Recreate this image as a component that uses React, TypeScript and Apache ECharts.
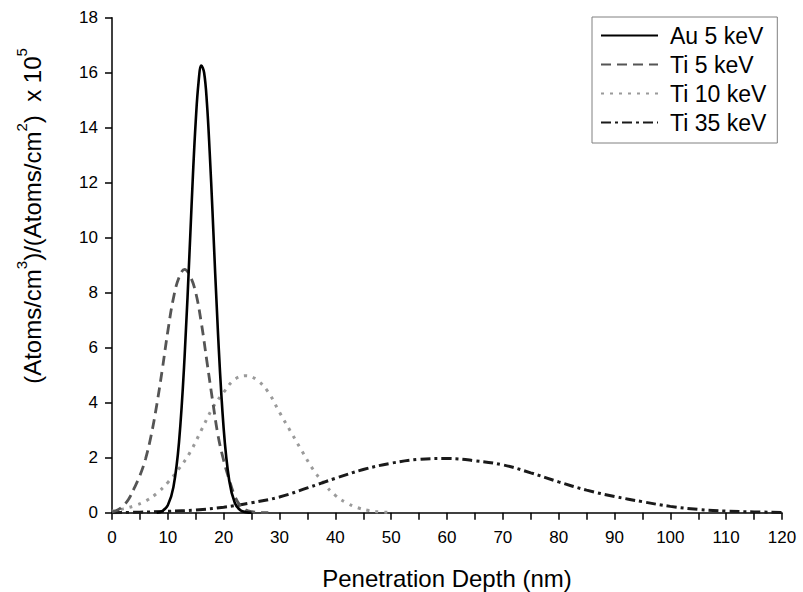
import React, { useEffect, useRef } from "react";
import * as echarts from "echarts";

const FONT = "'Liberation Sans', Arial, Helvetica, sans-serif";

const seriesNames = ["Au 5 keV", "Ti 5 keV", "Ti 10 keV", "Ti 35 keV"];

// Au 5 keV
const auX = [8, 9, 10, 11, 12, 13, 14, 14.5, 15, 15.5, 16, 16.5, 17, 17.5, 18, 19, 20, 21, 22, 23, 24, 25];
const auY = [0, 0.06, 0.27, 0.93, 2.56, 5.66, 10.0, 12.3, 14.25, 15.65, 16.26, 16.0, 14.9, 13.1, 10.95, 6.46, 3.06, 1.16, 0.35, 0.09, 0.02, 0];

// Ti 5 keV
const ti5X = [0, 1, 2, 3, 4, 5, 6, 7, 8, 9, 10, 11, 12, 13, 14, 15, 16, 17, 18, 19, 20, 21, 22, 23, 24, 25, 26, 27, 28];
const ti5Y = [0.03, 0.1, 0.25, 0.5, 0.9, 1.35, 1.95, 2.8, 3.9, 5.2, 6.6, 7.8, 8.55, 8.85, 8.6, 8.0, 6.9, 5.5, 4.1, 2.8, 1.9, 1.2, 0.6, 0.25, 0.1, 0.04, 0.01, 0, 0];

// Ti 10 keV
const ti10X = [0, 2, 4, 6, 8, 10, 12, 14, 16, 18, 20, 22, 24, 26, 28, 30, 32, 34, 36, 38, 40, 42, 44, 46, 48, 50];
const ti10Y = [0.05, 0.14, 0.25, 0.42, 0.7, 1.1, 1.6, 2.2, 3.0, 3.8, 4.38, 4.85, 4.98, 4.82, 4.38, 3.65, 2.95, 2.25, 1.58, 1.05, 0.63, 0.36, 0.18, 0.08, 0.03, 0.01];

// Ti 35 keV
const ti35X = [0, 5, 10, 15, 20, 25, 30, 35, 40, 45, 50, 55, 60, 65, 70, 75, 80, 85, 90, 95, 100, 105, 110, 115, 120];
const ti35Y = [0, 0.02, 0.05, 0.1, 0.2, 0.36, 0.57, 0.9, 1.25, 1.57, 1.8, 1.94, 1.97, 1.89, 1.74, 1.45, 1.12, 0.82, 0.59, 0.4, 0.23, 0.12, 0.06, 0.03, 0.01];

const xTitle = "Penetration Depth (nm)";
const yTitle = "{a|(Atoms/cm}{s|3}{a|)/(Atoms/cm}{s|2}{a|)  x 10}{s|5}";

const zip = (xs: number[], ys: number[]) => xs.map((x, i) => [x, ys[i]]);

export default function App() {
  const ref = useRef<HTMLDivElement>(null);

  useEffect(() => {
    document.body.style.margin = "0";
    if (!ref.current) return;
    const chart = echarts.init(ref.current, null, { renderer: "svg" });

    const tickStyle = { color: "#000", width: 1.5 };
    const labelStyle = { fontSize: 17, color: "#000", fontFamily: FONT };

    chart.setOption({
      animation: false,
      backgroundColor: "#fff",
      textStyle: { fontFamily: FONT },
      grid: { left: 112, right: 21, top: 17.7, bottom: 79.3 },
      legend: {
        orient: "vertical",
        left: 592,
        top: 17,
        padding: [7, 11, 9, 8],
        itemGap: 6,
        itemWidth: 57,
        itemHeight: 14,
        borderColor: "#808080",
        borderWidth: 1,
        data: seriesNames,
        itemStyle: { opacity: 0, borderWidth: 0 },
        textStyle: { fontSize: 23, color: "#000", fontFamily: FONT, padding: [0, 0, 0, 7] },
      },
      xAxis: {
        type: "value",
        min: 0,
        max: 120,
        interval: 10,
        axisLine: { show: true, lineStyle: tickStyle },
        axisTick: { show: true, length: 7, lineStyle: tickStyle },
        minorTick: { show: true, splitNumber: 2, length: 7, lineStyle: tickStyle },
        splitLine: { show: false },
        axisLabel: { ...labelStyle, margin: 16 },
      },
      yAxis: {
        type: "value",
        min: 0,
        max: 18,
        interval: 2,
        axisLine: { show: true, lineStyle: tickStyle },
        axisTick: { show: true, length: 7, lineStyle: tickStyle },
        splitLine: { show: false },
        axisLabel: { ...labelStyle, margin: 14 },
      },
      series: [
        {
          name: seriesNames[0],
          type: "line",
          data: zip(auX, auY),
          symbol: "none",
          showSymbol: false,
          smooth: 0.4,
          z: 5,
          itemStyle: { color: "#000" },
          lineStyle: { color: "#000", width: 2.6, type: "solid" },
        },
        {
          name: seriesNames[1],
          type: "line",
          data: zip(ti5X, ti5Y),
          symbol: "none",
          showSymbol: false,
          smooth: 0.4,
          z: 4,
          itemStyle: { color: "#555" },
          lineStyle: { color: "#555", width: 2.8, type: [10, 6] },
        },
        {
          name: seriesNames[2],
          type: "line",
          data: zip(ti10X, ti10Y),
          symbol: "none",
          showSymbol: false,
          smooth: 0.4,
          z: 3,
          itemStyle: { color: "#9a9a9a" },
          lineStyle: { color: "#9a9a9a", width: 3, type: [3, 6] },
        },
        {
          name: seriesNames[3],
          type: "line",
          data: zip(ti35X, ti35Y),
          symbol: "none",
          showSymbol: false,
          smooth: 0.4,
          z: 3,
          itemStyle: { color: "#1a1a1a" },
          lineStyle: { color: "#1a1a1a", width: 3, type: [10, 4, 3, 4] },
        },
      ],
      graphic: [
        {
          type: "text",
          x: 447,
          y: 578,
          style: {
            text: xTitle,
            fontSize: 24,
            fontFamily: FONT,
            fill: "#000",
            align: "center",
            verticalAlign: "middle",
          },
        },
        {
          type: "text",
          x: 29,
          y: 216,
          rotation: Math.PI / 2,
          style: {
            text: yTitle,
            align: "center",
            verticalAlign: "middle",
            fill: "#000",
            rich: {
              a: { fontSize: 24, fontFamily: FONT, fill: "#000", lineHeight: 30, verticalAlign: "bottom" },
              s: { fontSize: 15, fontFamily: FONT, fill: "#000", lineHeight: 30, verticalAlign: "top" },
            },
          },
        },
      ],
    });

    return () => chart.dispose();
  }, []);

  return <div ref={ref} style={{ width: 803, height: 592 }} />;
}
